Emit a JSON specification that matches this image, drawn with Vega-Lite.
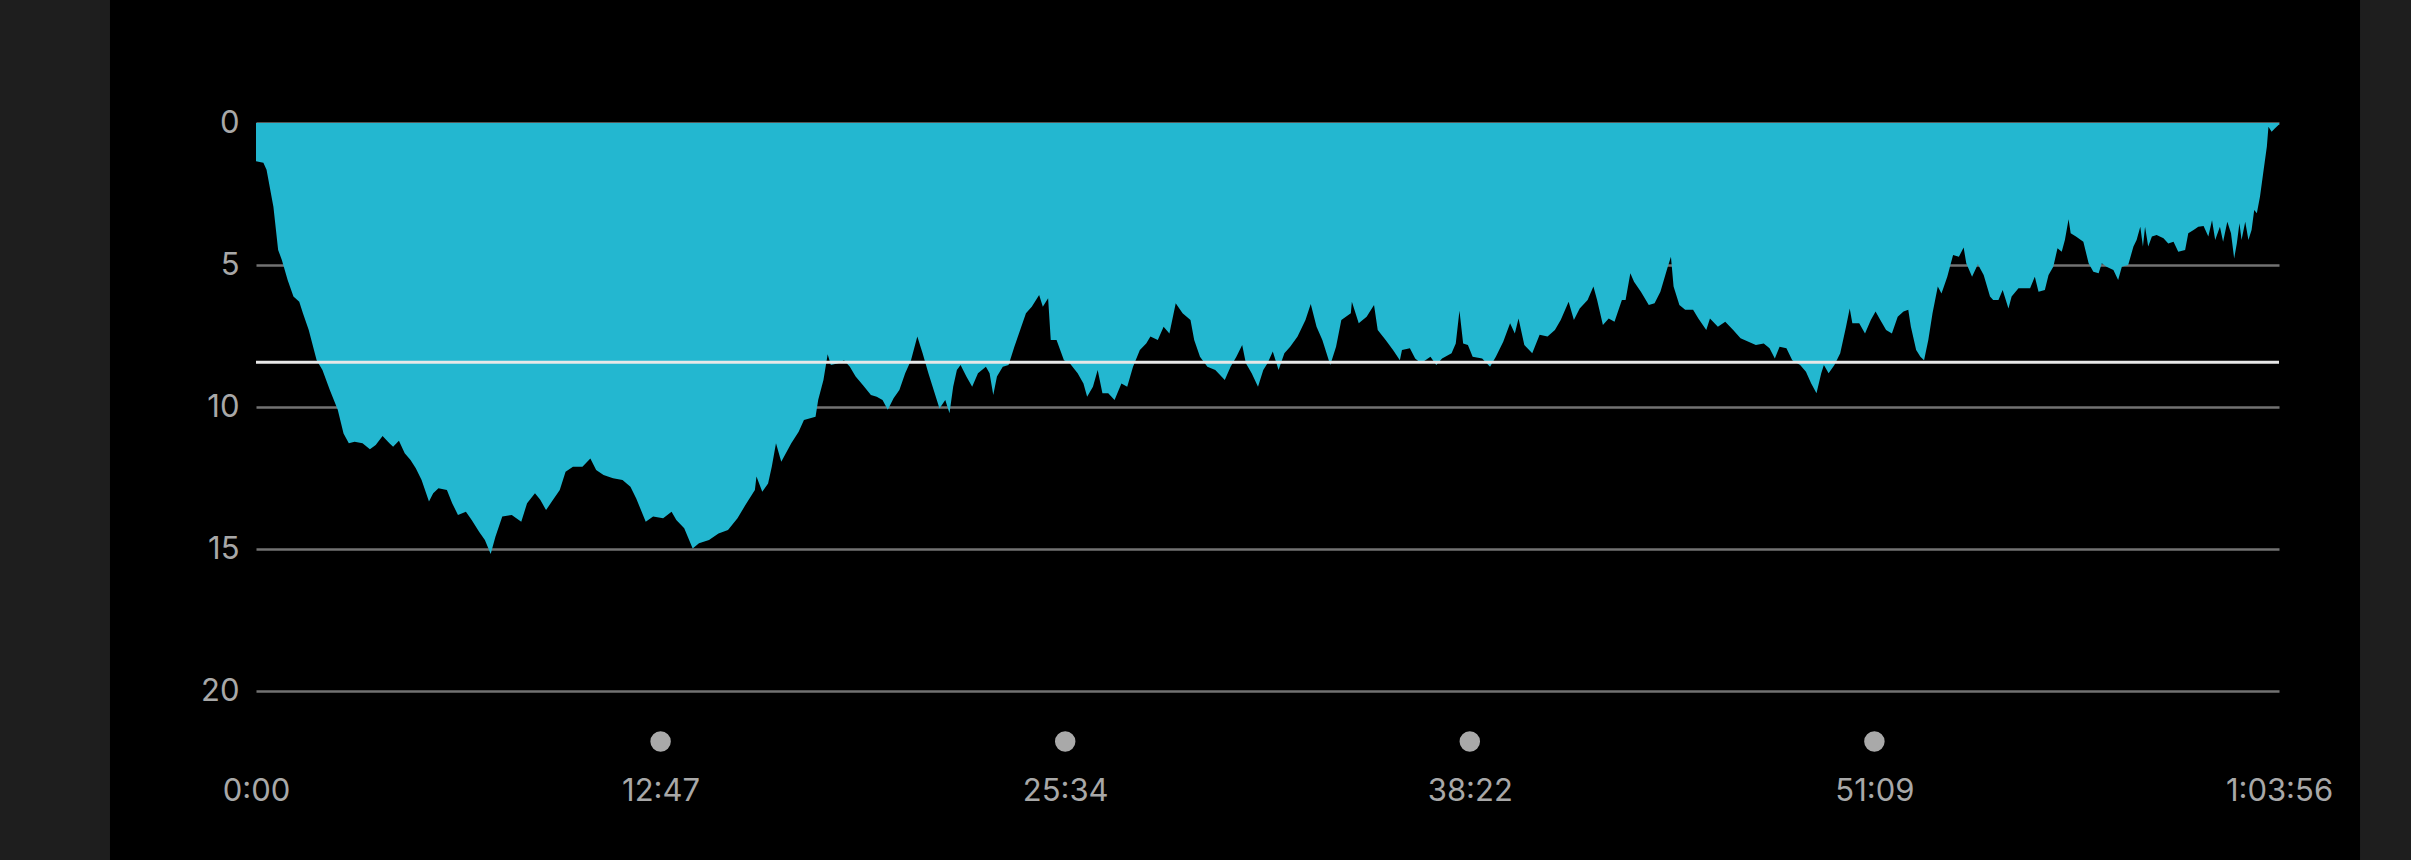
{
  "$schema": "https://vega.github.io/schema/vega-lite/v6.json",
  "width": 2023,
  "height": 568,
  "autosize": {"type": "none"},
  "padding": {"left": 256, "top": 123, "right": 132, "bottom": 169},
  "background": "#000000",
  "config": {
    "view": {"stroke": null},
    "axis": {
      "labelFont": "Inter",
      "labelFontSize": 31,
      "labelColor": "#a8a8a8",
      "domain": false,
      "ticks": false,
      "tickSize": 0,
      "title": null,
      "labelOverlap": false,
      "labelBound": false,
      "labelFlush": false
    }
  },
  "datasets": {
    "profile": [
      {"t":0,"d":1.35},{"t":14,"d":1.4},{"t":20,"d":1.65},{"t":33,"d":2.95},{"t":42,"d":4.47},{"t":49,"d":4.82},{"t":60,"d":5.53},{"t":71,"d":6.11},{"t":82,"d":6.29},{"t":89,"d":6.7},{"t":100,"d":7.29},{"t":115,"d":8.35},{"t":126,"d":8.7},{"t":140,"d":9.4},{"t":155,"d":10.1},{"t":166,"d":10.93},{"t":176,"d":11.28},{"t":187,"d":11.22},{"t":202,"d":11.28},{"t":216,"d":11.49},{"t":227,"d":11.34},{"t":240,"d":11.02},{"t":253,"d":11.28},{"t":260,"d":11.4},{"t":271,"d":11.19},{"t":282,"d":11.63},{"t":293,"d":11.87},{"t":303,"d":12.16},{"t":314,"d":12.57},{"t":328,"d":13.33},{"t":336,"d":13.04},{"t":346,"d":12.86},{"t":362,"d":12.92},{"t":372,"d":13.39},{"t":383,"d":13.8},{"t":398,"d":13.69},{"t":409,"d":13.98},{"t":423,"d":14.39},{"t":434,"d":14.68},{"t":445,"d":15.18},{"t":454,"d":14.57},{"t":467,"d":13.86},{"t":485,"d":13.8},{"t":503,"d":14.04},{"t":514,"d":13.39},{"t":529,"d":13.04},{"t":539,"d":13.27},{"t":550,"d":13.63},{"t":561,"d":13.33},{"t":576,"d":12.92},{"t":587,"d":12.28},{"t":601,"d":12.1},{"t":619,"d":12.1},{"t":634,"d":11.81},{"t":645,"d":12.22},{"t":659,"d":12.39},{"t":677,"d":12.51},{"t":695,"d":12.57},{"t":710,"d":12.81},{"t":721,"d":13.22},{"t":739,"d":14.04},{"t":753,"d":13.86},{"t":772,"d":13.92},{"t":788,"d":13.69},{"t":797,"d":13.98},{"t":812,"d":14.27},{"t":828,"d":14.98},{"t":840,"d":14.8},{"t":859,"d":14.68},{"t":877,"d":14.45},{"t":895,"d":14.33},{"t":913,"d":13.92},{"t":928,"d":13.45},{"t":946,"d":12.92},{"t":949,"d":12.45},{"t":960,"d":12.98},{"t":971,"d":12.69},{"t":978,"d":12.1},{"t":986,"d":11.28},{"t":996,"d":11.93},{"t":1015,"d":11.28},{"t":1029,"d":10.87},{"t":1039,"d":10.46},{"t":1061,"d":10.34},{"t":1066,"d":9.75},{"t":1076,"d":9.05},{"t":1084,"d":8.14},{"t":1090,"d":8.52},{"t":1104,"d":8.46},{"t":1115,"d":8.35},{"t":1126,"d":8.58},{"t":1137,"d":8.93},{"t":1151,"d":9.23},{"t":1166,"d":9.58},{"t":1177,"d":9.64},{"t":1188,"d":9.75},{"t":1198,"d":10.1},{"t":1209,"d":9.69},{"t":1220,"d":9.4},{"t":1231,"d":8.81},{"t":1242,"d":8.35},{"t":1254,"d":7.52},{"t":1264,"d":8.11},{"t":1275,"d":8.81},{"t":1285,"d":9.4},{"t":1296,"d":10.05},{"t":1307,"d":9.75},{"t":1315,"d":10.22},{"t":1322,"d":9.29},{"t":1329,"d":8.7},{"t":1336,"d":8.52},{"t":1347,"d":8.93},{"t":1358,"d":9.29},{"t":1369,"d":8.81},{"t":1384,"d":8.58},{"t":1391,"d":8.81},{"t":1398,"d":9.58},{"t":1405,"d":8.93},{"t":1416,"d":8.58},{"t":1427,"d":8.52},{"t":1438,"d":7.88},{"t":1449,"d":7.29},{"t":1460,"d":6.7},{"t":1471,"d":6.47},{"t":1485,"d":6.06},{"t":1492,"d":6.47},{"t":1502,"d":6.17},{"t":1507,"d":7.64},{"t":1518,"d":7.64},{"t":1532,"d":8.35},{"t":1543,"d":8.46},{"t":1558,"d":8.81},{"t":1569,"d":9.17},{"t":1576,"d":9.64},{"t":1587,"d":9.29},{"t":1596,"d":8.7},{"t":1605,"d":9.52},{"t":1616,"d":9.52},{"t":1628,"d":9.75},{"t":1641,"d":9.17},{"t":1652,"d":9.29},{"t":1663,"d":8.58},{"t":1676,"d":7.99},{"t":1688,"d":7.76},{"t":1696,"d":7.52},{"t":1710,"d":7.64},{"t":1721,"d":7.17},{"t":1732,"d":7.41},{"t":1744,"d":6.35},{"t":1757,"d":6.7},{"t":1772,"d":6.94},{"t":1779,"d":7.64},{"t":1790,"d":8.23},{"t":1804,"d":8.58},{"t":1819,"d":8.7},{"t":1837,"d":9.05},{"t":1848,"d":8.58},{"t":1859,"d":8.23},{"t":1870,"d":7.82},{"t":1877,"d":8.46},{"t":1888,"d":8.81},{"t":1900,"d":9.29},{"t":1910,"d":8.7},{"t":1918,"d":8.46},{"t":1928,"d":8.05},{"t":1939,"d":8.7},{"t":1950,"d":8.11},{"t":1961,"d":7.88},{"t":1975,"d":7.52},{"t":1990,"d":6.94},{"t":2000,"d":6.37},{"t":2011,"d":7.17},{"t":2022,"d":7.64},{"t":2037,"d":8.52},{"t":2048,"d":7.88},{"t":2058,"d":6.94},{"t":2076,"d":6.7},{"t":2078,"d":6.29},{"t":2091,"d":7.05},{"t":2106,"d":6.82},{"t":2120,"d":6.41},{"t":2127,"d":7.29},{"t":2142,"d":7.64},{"t":2156,"d":7.99},{"t":2169,"d":8.35},{"t":2173,"d":7.99},{"t":2188,"d":7.93},{"t":2198,"d":8.29},{"t":2209,"d":8.46},{"t":2227,"d":8.23},{"t":2238,"d":8.52},{"t":2249,"d":8.29},{"t":2267,"d":8.11},{"t":2275,"d":7.76},{"t":2282,"d":6.61},{"t":2289,"d":7.76},{"t":2298,"d":7.82},{"t":2307,"d":8.23},{"t":2325,"d":8.29},{"t":2340,"d":8.58},{"t":2351,"d":8.23},{"t":2365,"d":7.7},{"t":2378,"d":7.05},{"t":2387,"d":7.41},{"t":2394,"d":6.88},{"t":2405,"d":7.82},{"t":2420,"d":8.11},{"t":2434,"d":7.46},{"t":2449,"d":7.52},{"t":2463,"d":7.29},{"t":2474,"d":6.94},{"t":2489,"d":6.29},{"t":2499,"d":6.94},{"t":2510,"d":6.53},{"t":2525,"d":6.23},{"t":2536,"d":5.76},{"t":2543,"d":6.23},{"t":2554,"d":7.11},{"t":2565,"d":6.88},{"t":2576,"d":7.0},{"t":2590,"d":6.23},{"t":2597,"d":6.23},{"t":2606,"d":5.29},{"t":2613,"d":5.59},{"t":2626,"d":5.94},{"t":2641,"d":6.41},{"t":2652,"d":6.35},{"t":2663,"d":5.94},{"t":2676,"d":5.12},{"t":2683,"d":4.71},{"t":2688,"d":5.76},{"t":2699,"d":6.41},{"t":2710,"d":6.58},{"t":2725,"d":6.58},{"t":2735,"d":6.88},{"t":2750,"d":7.29},{"t":2757,"d":6.88},{"t":2772,"d":7.17},{"t":2786,"d":7.0},{"t":2801,"d":7.29},{"t":2815,"d":7.58},{"t":2830,"d":7.7},{"t":2844,"d":7.82},{"t":2859,"d":7.76},{"t":2870,"d":7.93},{"t":2880,"d":8.29},{"t":2889,"d":7.88},{"t":2902,"d":7.93},{"t":2913,"d":8.35},{"t":2928,"d":8.52},{"t":2939,"d":8.76},{"t":2949,"d":9.17},{"t":2959,"d":9.52},{"t":2968,"d":8.81},{"t":2973,"d":8.52},{"t":2982,"d":8.81},{"t":2993,"d":8.52},{"t":3004,"d":8.11},{"t":3015,"d":7.17},{"t":3022,"d":6.53},{"t":3027,"d":7.05},{"t":3040,"d":7.05},{"t":3051,"d":7.41},{"t":3062,"d":6.94},{"t":3071,"d":6.64},{"t":3080,"d":6.94},{"t":3091,"d":7.29},{"t":3102,"d":7.41},{"t":3113,"d":6.82},{"t":3124,"d":6.64},{"t":3133,"d":6.58},{"t":3138,"d":7.17},{"t":3148,"d":7.99},{"t":3156,"d":8.23},{"t":3163,"d":8.35},{"t":3171,"d":7.64},{"t":3179,"d":6.7},{"t":3189,"d":5.76},{"t":3196,"d":6.0},{"t":3207,"d":5.41},{"t":3218,"d":4.65},{"t":3229,"d":4.71},{"t":3238,"d":4.38},{"t":3243,"d":4.94},{"t":3254,"d":5.41},{"t":3265,"d":4.97},{"t":3276,"d":5.35},{"t":3288,"d":6.11},{"t":3294,"d":6.23},{"t":3304,"d":6.23},{"t":3312,"d":5.88},{"t":3323,"d":6.53},{"t":3329,"d":6.11},{"t":3342,"d":5.82},{"t":3364,"d":5.82},{"t":3373,"d":5.41},{"t":3380,"d":5.94},{"t":3392,"d":5.88},{"t":3399,"d":5.35},{"t":3408,"d":5.06},{"t":3416,"d":4.41},{"t":3424,"d":4.53},{"t":3430,"d":4.12},{"t":3437,"d":3.39},{"t":3441,"d":3.88},{"t":3451,"d":4.0},{"t":3465,"d":4.18},{"t":3475,"d":4.94},{"t":3484,"d":5.24},{"t":3494,"d":5.29},{"t":3500,"d":4.94},{"t":3509,"d":5.06},{"t":3522,"d":5.18},{"t":3531,"d":5.53},{"t":3538,"d":5.06},{"t":3550,"d":5.0},{"t":3560,"d":4.35},{"t":3566,"d":4.12},{"t":3573,"d":3.65},{"t":3578,"d":4.35},{"t":3582,"d":3.65},{"t":3588,"d":4.35},{"t":3595,"d":4.0},{"t":3604,"d":3.94},{"t":3617,"d":4.06},{"t":3626,"d":4.24},{"t":3636,"d":4.18},{"t":3645,"d":4.53},{"t":3658,"d":4.47},{"t":3664,"d":3.88},{"t":3674,"d":3.77},{"t":3683,"d":3.65},{"t":3693,"d":3.63},{"t":3702,"d":4.0},{"t":3709,"d":3.42},{"t":3715,"d":4.12},{"t":3724,"d":3.65},{"t":3730,"d":4.18},{"t":3738,"d":3.48},{"t":3745,"d":3.88},{"t":3751,"d":4.77},{"t":3756,"d":4.24},{"t":3761,"d":3.53},{"t":3765,"d":4.12},{"t":3772,"d":3.48},{"t":3778,"d":4.12},{"t":3784,"d":3.77},{"t":3789,"d":3.06},{"t":3794,"d":3.18},{"t":3800,"d":2.59},{"t":3806,"d":1.77},{"t":3813,"d":0.83},{"t":3816,"d":0.13},{"t":3822,"d":0.31},{"t":3828,"d":0.19},{"t":3836,"d":0.05}
    ],
    "markers": [{"t": 767.2}, {"t": 1534.4}, {"t": 2301.6}, {"t": 3068.8}],
    "stats": [{"avgDepth": 8.42}]
  },
  "layer": [
    {
      "data": {"name": "stats"},
      "mark": {"type": "rect", "color": "#1e1e1e"},
      "encoding": {
        "x": {"datum": -3000, "type": "quantitative", "scale": {"domain": [0, 3836], "nice": false, "zero": false}},
        "x2": {"datum": -276.85},
        "y": {"datum": -40, "type": "quantitative", "scale": {"domain": [0, 20], "reverse": true, "nice": false}},
        "y2": {"datum": 60}
      }
    },
    {
      "data": {"name": "stats"},
      "mark": {"type": "rect", "color": "#1e1e1e"},
      "encoding": {
        "x": {"datum": 3989.6, "type": "quantitative"},
        "x2": {"datum": 8000},
        "y": {"datum": -40, "type": "quantitative"},
        "y2": {"datum": 60}
      }
    },
    {
      "data": {"name": "profile"},
      "mark": {"type": "area", "color": "#23b7d0", "interpolate": "linear"},
      "encoding": {
        "x": {
          "field": "t",
          "type": "quantitative",
          "scale": {"domain": [0, 3836], "nice": false, "zero": false},
          "axis": {
            "orient": "bottom",
            "grid": false,
            "values": [0, 767.2, 1534.4, 2301.6, 3068.8, 3836],
            "labelPadding": 85,
            "labelAlign": "center",
            "labelExpr": "(round(datum.value) >= 3600 ? floor(round(datum.value)/3600) + ':' + format(floor((round(datum.value) % 3600)/60), '02d') : '' + floor(round(datum.value)/60)) + ':' + format(round(datum.value) % 60, '02d')"
          }
        },
        "y": {
          "field": "d",
          "type": "quantitative",
          "scale": {"domain": [0, 20], "reverse": true, "nice": false},
          "axis": {
            "orient": "left",
            "values": [0, 5, 10, 15, 20],
            "grid": true,
            "gridColor": "#727272",
            "gridWidth": 2.5,
            "labelPadding": 17,
            "labelBaseline": "middle"
          }
        }
      }
    },
    {
      "data": {"name": "stats"},
      "mark": {"type": "rule", "color": "#e8e8e8", "strokeWidth": 3},
      "encoding": {
        "y": {"field": "avgDepth", "type": "quantitative"}
      }
    },
    {
      "data": {"name": "markers"},
      "mark": {"type": "circle", "color": "#a9a9a9", "size": 420, "opacity": 1},
      "encoding": {
        "x": {"field": "t", "type": "quantitative"},
        "y": {"datum": 21.78, "type": "quantitative"}
      }
    }
  ]
}
